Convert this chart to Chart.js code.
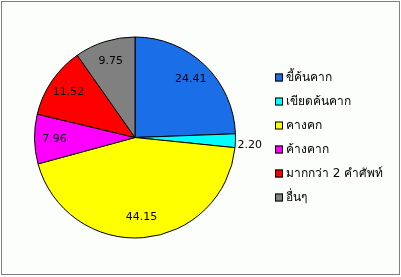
<!DOCTYPE html>
<html>
<head>
<meta charset="utf-8">
<script src="https://cdn.jsdelivr.net/npm/chart.js@4/dist/chart.umd.min.js"></script>
<style>
  html, body { margin: 0; padding: 0; background: #fff; }
  #frame {
    position: absolute; left: 1px; top: 1px;
    width: 399px; height: 274px; box-sizing: border-box;
    border: 1px solid #7f7f7f; background: #fcfefc;
  }
  #frame canvas { display: block; }
</style>
</head>
<body>
<div id="frame"><canvas id="pie" width="397" height="272"></canvas></div>
<script>
// data (percent)
const categories = ["ขี้ค้นคาก", "เขียดค้นคาก", "คางคก", "ค้างคาก", "มากกว่า 2 คำศัพท์", "อื่นๆ"];
const shares = [24.41, 2.20, 44.15, 7.96, 11.52, 9.75];
const sliceColors = ["#1a6ee8", "#00ffff", "#ffff00", "#ff00ff", "#ff0000", "#808080"];

const FONT = "Tahoma, 'DejaVu Sans', sans-serif";

// values printed on (or just outside) each slice
const sliceValues = {
  id: "sliceValues",
  afterDatasetsDraw(chart) {
    const ctx = chart.ctx;
    const meta = chart.getDatasetMeta(0);
    ctx.save();
    ctx.font = "11px " + FONT;
    ctx.fillStyle = "#000";
    ctx.textBaseline = "middle";
    meta.data.forEach((arc, i) => {
      const p = arc.getProps(["x", "y", "startAngle", "endAngle", "outerRadius"], true);
      const mid = (p.startAngle + p.endAngle) / 2;
      const txt = shares[i].toFixed(2);
      if (shares[i] < 5) {
        // too thin: put it just outside the rim
        ctx.textAlign = Math.cos(mid) >= 0 ? "left" : "right";
        const d = p.outerRadius + 2;
        ctx.fillText(txt, p.x + Math.cos(mid) * d, p.y + Math.sin(mid) * d + 4);
      } else {
        ctx.textAlign = "center";
        const d = p.outerRadius * 0.8;
        ctx.fillText(txt, p.x + Math.cos(mid) * d, p.y + Math.sin(mid) * d);
      }
    });
    ctx.restore();
  }
};

// legend block to the right of the pie, Excel style
const sideLegend = {
  id: "sideLegend",
  afterDraw(chart) {
    const ctx = chart.ctx;
    const area = chart.chartArea;
    const rowH = 24;
    const x = area.right + 39;
    const y0 = (area.top + area.bottom) / 2 - rowH * (categories.length - 1) / 2;
    ctx.save();
    ctx.font = "12px " + FONT;
    ctx.textAlign = "left";
    ctx.textBaseline = "middle";
    categories.forEach((name, i) => {
      const y = y0 + i * rowH;
      ctx.fillStyle = sliceColors[i];
      ctx.fillRect(x, y - 4, 8, 8);
      ctx.strokeStyle = "#000";
      ctx.lineWidth = 1;
      ctx.strokeRect(x + 0.5, y - 3.5, 7, 7);
      ctx.fillStyle = "#000";
      ctx.fillText(name, x + 11, y);
    });
    ctx.restore();
  }
};

new Chart(document.getElementById("pie"), {
  type: "pie",
  data: {
    labels: categories,
    datasets: [{
      data: shares,
      backgroundColor: sliceColors,
      borderColor: "#000",
      borderWidth: 1
    }]
  },
  options: {
    responsive: false,
    animation: false,
    layout: { padding: { left: 32, top: 34, bottom: 35, right: 163 } },
    plugins: {
      tooltip: { enabled: false },
      legend: { display: false }
    }
  },
  plugins: [sliceValues, sideLegend]
});
</script>
</body>
</html>
